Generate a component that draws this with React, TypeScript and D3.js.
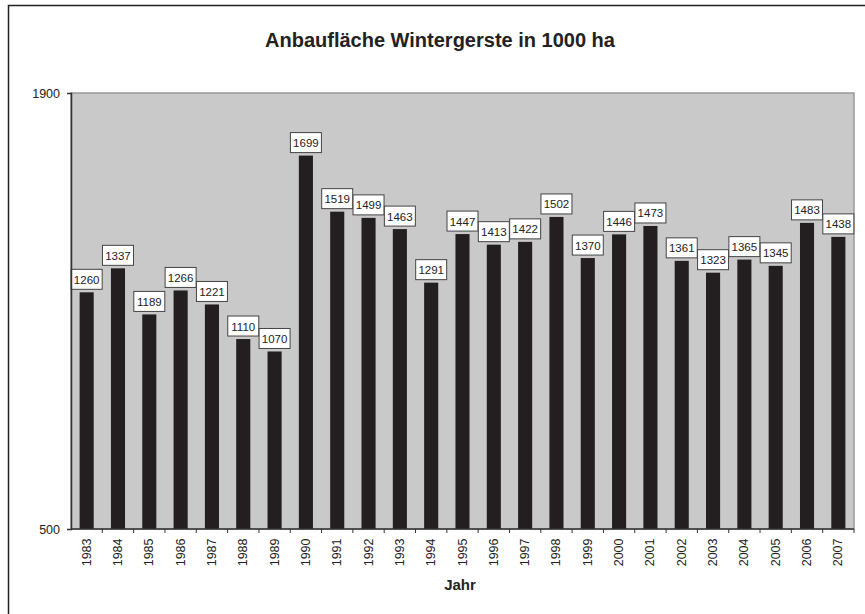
import React, { useEffect, useRef } from "react"
import * as d3 from "d3"

const years = [
	"1983", "1984", "1985", "1986", "1987", "1988", "1989", "1990", "1991",
	"1992", "1993", "1994", "1995", "1996", "1997", "1998", "1999", "2000",
	"2001", "2002", "2003", "2004", "2005", "2006", "2007",
]
const area = [
	1260, 1337, 1189, 1266, 1221, 1110, 1070, 1699, 1519, 1499, 1463, 1291,
	1447, 1413, 1422, 1502, 1370, 1446, 1473, 1361, 1323, 1365, 1345, 1483,
	1438,
]
const yTicks = [500, 1900]

const App = () => {
	const svgRef = useRef<SVGSVGElement>(null)

	useEffect(() => {
		const width = 865
		const height = 614
		const margin = { top: 93, right: 11, bottom: 85, left: 71 }
		const font = "Arial, 'Liberation Sans', sans-serif"

		const svg = d3.select(svgRef.current)
		svg.selectAll("*").remove()
		svg.attr("width", width).attr("height", height)

		const data = years.map((y, i) => ({ year: y, value: area[i] }))

		const x = d3
			.scaleBand()
			.domain(years)
			.range([margin.left, width - margin.right])
			.paddingInner(0.55)
			.paddingOuter(0.275)
		const band = d3
			.scaleBand()
			.domain(years)
			.range([margin.left, width - margin.right])
		const y = d3
			.scaleLinear()
			.domain([500, 1900])
			.range([height - margin.bottom, margin.top])

		// outer chart frame
		svg.append("rect")
			.attr("x", 8.5)
			.attr("y", 5.5)
			.attr("width", 864)
			.attr("height", 620)
			.attr("fill", "white")
			.attr("stroke", "#222")
			.attr("stroke-width", 1.5)

		// title
		svg.append("text")
			.attr("x", 440)
			.attr("y", 47)
			.attr("text-anchor", "middle")
			.attr("font-family", font)
			.attr("font-size", 20)
			.attr("font-weight", "bold")
			.attr("fill", "#222")
			.text("Anbaufläche Wintergerste in 1000 ha")

		// plot area
		svg.append("rect")
			.attr("x", margin.left)
			.attr("y", margin.top)
			.attr("width", width - margin.left - margin.right)
			.attr("height", height - margin.top - margin.bottom)
			.attr("fill", "#c9c9ca")
			.attr("stroke", "#999")
			.attr("stroke-width", 1.5)

		// bars
		svg.append("g")
			.selectAll("rect")
			.data(data)
			.join("rect")
			.attr("x", (d) => x(d.year)!)
			.attr("width", x.bandwidth())
			.attr("y", (d) => y(d.value))
			.attr("height", (d) => y(500) - y(d.value))
			.attr("fill", "#231f20")

		// value labels
		const labels = svg.append("g")
			.selectAll("g")
			.data(data)
			.join("g")
			.attr(
				"transform",
				(d) =>
					`translate(${band(d.year)! + band.bandwidth() / 2}, ${y(d.value) - 2.5})`
			)
		labels
			.append("rect")
			.attr("x", -15.5)
			.attr("y", -20.5)
			.attr("width", 31)
			.attr("height", 20)
			.attr("fill", "white")
			.attr("stroke", "#444")
			.attr("stroke-width", 1)
		labels
			.append("text")
			.attr("y", -6)
			.attr("text-anchor", "middle")
			.attr("font-family", font)
			.attr("font-size", 11.5)
			.attr("fill", "#222")
			.text((d) => d.value)

		// y axis
		svg.append("g")
			.attr("transform", `translate(${margin.left}, 0)`)
			.call(
				d3
					.axisLeft(y)
					.tickValues(yTicks)
					.tickFormat(d3.format("d"))
					.tickSize(4)
					.tickPadding(7)
			)
			.call((g) => g.select(".domain").attr("stroke", "#333").attr("stroke-width", 1.5))
			.call((g) => g.selectAll("line").attr("stroke", "#333"))
			.call((g) =>
				g
					.selectAll("text")
					.attr("font-family", font)
					.attr("font-size", 12.5)
					.attr("fill", "#222")
			)

		// x axis
		const xAxis = svg.append("g")
			.attr("transform", `translate(0, ${height - margin.bottom})`)
		xAxis.append("line")
			.attr("x1", margin.left)
			.attr("x2", width - margin.right)
			.attr("stroke", "#333")
			.attr("stroke-width", 1.5)
		xAxis.selectAll(".tick")
			.data(years)
			.join("line")
			.attr("x1", (d) => band(d)! + band.bandwidth())
			.attr("x2", (d) => band(d)! + band.bandwidth())
			.attr("y1", 0)
			.attr("y2", 4)
			.attr("stroke", "#333")
		xAxis.selectAll(".lbl")
			.data(years)
			.join("text")
			.attr(
				"transform",
				(d) => `translate(${band(d)! + band.bandwidth() / 2 + 4}, 9.5) rotate(-90)`
			)
			.attr("text-anchor", "end")
			.attr("font-family", font)
			.attr("font-size", 12.5)
			.attr("fill", "#222")
			.text((d) => d)

		// x axis title
		svg.append("text")
			.attr("x", 460)
			.attr("y", 590)
			.attr("text-anchor", "middle")
			.attr("font-family", font)
			.attr("font-size", 15)
			.attr("font-weight", "bold")
			.attr("fill", "#222")
			.text("Jahr")
	}, [])

	return <svg ref={svgRef} style={{ position: "absolute", left: 0, top: 0 }} />
}

export default App
